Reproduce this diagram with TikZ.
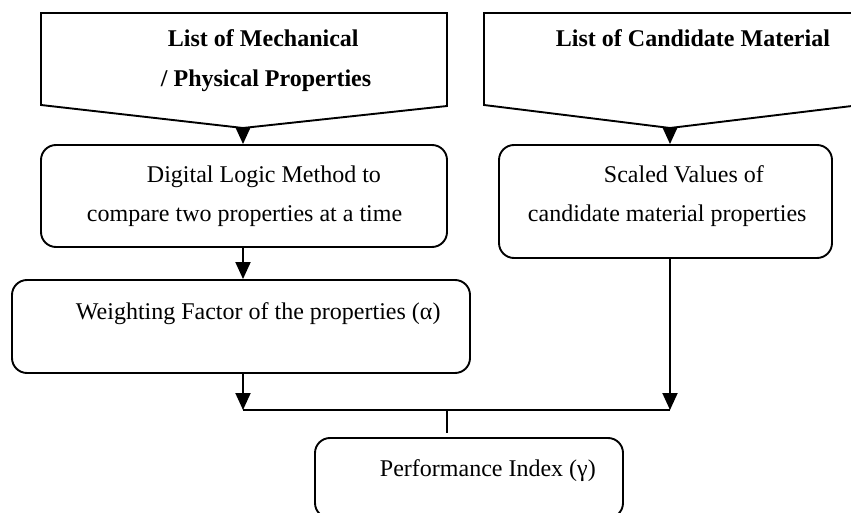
\documentclass[tikz,border=0pt]{standalone}
\usepackage{fontspec}
\setmainfont{Liberation Serif}
\usetikzlibrary{arrows.meta,fit}
\begin{document}
\begin{tikzpicture}[x=0.5pt,y=-0.5pt,
  line width=0.95pt,
  box/.style={draw,rounded corners=7.5pt,inner sep=0pt},
  txt/.style={anchor=base west,inner sep=0pt,font=\fontsize{12}{14}\selectfont},
  head/.style={anchor=base west,inner sep=0pt,font=\fontsize{12}{14}\selectfont\bfseries},
  arr/.style={-{Triangle[width=7.5pt,length=8.5pt]}}]
\useasboundingbox (0,0) rectangle (851,513);
% off-page connector shapes
\coordinate (p1tip) at (243,128);
\coordinate (p2tip) at (670,128);
\draw[line join=miter] (41,13) -- (447,13) -- (447,106) -- (p1tip) -- (41,105) -- cycle;
\draw[line join=miter] (484,13) -- (852,13) -- (852,106) -- (p2tip) -- (484,105) -- cycle;
\node[head] (h1a) at (167,47) {List of Mechanical};
\node[head] (h1b) at (160,87) {/ Physical Properties};
\node[head] (h2) at (555,47) {List of Candidate Material};
% boxes
\node[box,fit={(41,145) (447,247)}] (b1) {};
\node[box,fit={(499,145) (832,258)}] (b2) {};
\node[box,fit={(12,280) (470,373)}] (b3) {};
\node[box,fit={(315,438) (623,518)}] (b4) {};
\node[txt] (t1a) at (146,183) {Digital Logic Method to};
\node[txt] (t1b) at (86,222) {compare two properties at a time};
\node[txt] (t2a) at (603,183) {Scaled Values of};
\node[txt] (t2b) at (527,222) {candidate material properties};
\node[txt] (t3) at (75,320) {Weighting Factor of the properties (α)};
\node[txt] (t4) at (379,476) {Performance Index (γ)};
% connectors
\coordinate (jl) at (243,410);
\coordinate (jr) at (670,410);
\coordinate (jm) at (447,410);
\coordinate (jmb) at (447,433);
\draw[arr] (p1tip) -- (p1tip |- b1.north);
\draw[arr] (p2tip) -- (p2tip |- b2.north);
\draw[arr] (p1tip |- b1.south) -- (p1tip |- b3.north);
\draw[arr] (p1tip |- b3.south) -- (jl);
\draw[arr] (p2tip |- b2.south) -- (jr);
\draw (jl) -- (jr);
\draw (jm) -- (jmb);
\end{tikzpicture}
\end{document}
